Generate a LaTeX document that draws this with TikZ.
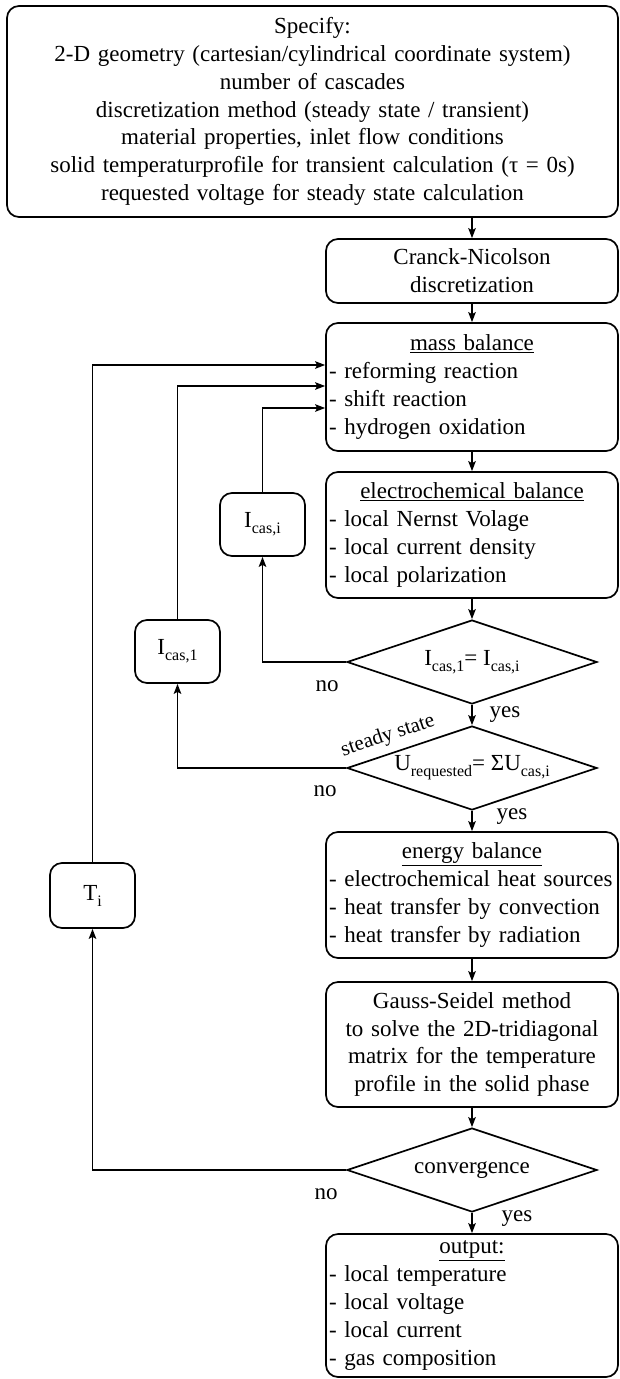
\documentclass[tikz,border=0pt]{standalone}
\usepackage{fontspec}
\setmainfont{Liberation Serif}
\usetikzlibrary{shapes.geometric,arrows.meta,calc}
\newcommand{\sbx}[1]{\raisebox{-6pt}{\fontsize{16}{16}\selectfont #1}}
\newcommand{\hdr}[1]{\makebox[286pt][c]{\underline{#1}}}
\begin{document}
\begin{tikzpicture}[x=1pt,y=-1pt,
  every node/.style={font=\fontsize{23}{27.8}\selectfont},
  box/.style={draw, line width=1.7pt, rounded corners=12pt, inner ysep=0pt, inner xsep=3pt},
  listbox/.style={box, minimum width=292pt, text width=286pt, align=left},
  cbox/.style={box, minimum width=292pt, text width=286pt, align=center},
  sbox/.style={box, minimum width=85pt, minimum height=63pt, align=center, inner xsep=0pt},
  dia/.style={draw, diamond, aspect=2.98, line width=1.7pt, minimum width=250pt, minimum height=84pt, inner sep=0pt, align=center},
  arr/.style={line width=1.6pt, -{Stealth[length=10pt,width=7.5pt,inset=2pt]}},
  lbl/.style={inner sep=0pt}
]
\fill[white] (0,0) rectangle (619,1379);
\useasboundingbox (0,0) rectangle (619,1379);

\node[box, minimum width=611pt, minimum height=211pt, text width=600pt, align=center, inner xsep=5.5pt] (top) at (312.5,111.5)
  {Specify:\\2-D geometry (cartesian/cylindrical coordinate system)\\number of cascades\\discretization method (steady state / transient)\\material properties, inlet flow conditions\\solid temperaturprofile for transient calculation (τ = 0s)\\requested voltage for steady state calculation};

\node[cbox, minimum height=64pt] (cn) at (472,271) {Cranck-Nicolson\\discretization};
\node[listbox, minimum height=128pt] (mass) at (472,387) {\hdr{mass balance}\\- reforming reaction\\- shift reaction\\- hydrogen oxidation};
\node[listbox, minimum height=126pt] (elec) at (472,535) {\hdr{electrochemical balance}\\- local Nernst Volage\\- local current density\\- local polarization};
\node[dia] (d1) at (472,662) {I\sbx{cas,1}= I\sbx{cas,i}};
\node[dia] (d2) at (472,768) {U\sbx{requested}= ΣU\sbx{cas,i}};
\node[listbox, minimum height=126pt] (energy) at (472,895) {\hdr{energy balance}\\- electrochemical heat sources\\- heat transfer by convection\\- heat transfer by radiation};
\node[cbox, minimum height=125pt] (gauss) at (472,1044.5) {Gauss-Seidel method\\to solve the 2D-tridiagonal\\matrix for the temperature\\profile in the solid phase};
\node[dia] (d3) at (472,1170) {convergence};
\node[listbox, minimum height=143pt] (out) at (472,1305.5) {\hdr{output:}\\- local temperature\\- local voltage\\- local current\\- gas composition};

\node[sbox] (ci) at (262.5,524.5) {I\sbx{cas,i}};
\node[sbox] (c1) at (177.5,651.5) {I\sbx{cas,1}};
\node[sbox, minimum height=65pt] (ti) at (92.5,895.5) {T\sbx{i}};

\coordinate (in1) at ($(mass.west)+(0,-22)$);
\coordinate (in2) at ($(mass.west)+(0,-1)$);
\coordinate (in3) at ($(mass.west)+(0,21)$);

\draw[arr] (cn.north |- top.south) -- (cn.north);
\draw[arr] (cn.south) -- (mass.north);
\draw[arr] (mass.south) -- (elec.north);
\draw[arr] (elec.south) -- (d1.north);
\draw[arr] (d1.south) -- (d2.north);
\draw[arr] (d2.south) -- (energy.north);
\draw[arr] (energy.south) -- (gauss.north);
\draw[arr] (gauss.south) -- (d3.north);
\draw[arr] (d3.south) -- (out.north);

\draw[arr] (d1.west) -| (ci.south);
\draw[arr] (ci.north) |- (in3);
\draw[arr] (d2.west) -| (c1.south);
\draw[arr] (c1.north) |- (in2);
\draw[arr] (d3.west) -| (ti.south);
\draw[arr] (ti.north) |- (in1);

\node[lbl] (no1) at (327,686) {no};
\node[lbl] (no2) at (325,791) {no};
\node[lbl] (no3) at (326,1194) {no};
\node[lbl] (yes1) at (505,715) {yes};
\node[lbl] (yes2) at (512,817) {yes};
\node[lbl] (yes3) at (517,1219) {yes};
\node[lbl, rotate=18.6, font=\fontsize{21}{21}\selectfont] (ss) at (388,736) {steady state};
\end{tikzpicture}
\end{document}
